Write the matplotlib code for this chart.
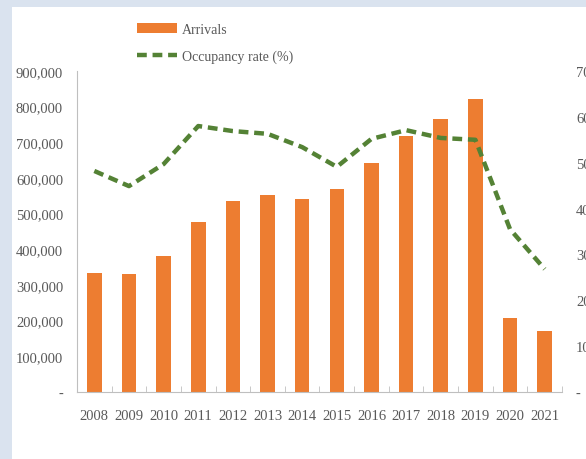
import numpy as np
import matplotlib
matplotlib.use("Agg")
import matplotlib.pyplot as plt
from matplotlib.patches import Rectangle
from matplotlib.ticker import FuncFormatter

# ── Data ────────────────────────────────────────────────────────────────
years = ["2008", "2009", "2010", "2011", "2012", "2013", "2014",
         "2015", "2016", "2017", "2018", "2019", "2020", "2021"]
arrivals = [333000, 331000, 382000, 476000, 535000, 551000, 540000,
            570000, 643000, 717000, 766000, 821000, 207000, 170000]
occupancy = [48.2, 44.9, 49.7, 58.0, 56.9, 56.3, 53.4,
             49.1, 55.2, 57.1, 55.4, 55.0, 35.5, 26.8]

BAR_COLOR = "#ED7D31"
LINE_COLOR = "#548235"
TEXT_COLOR = "#595959"
BG_COLOR = "#DAE3EF"

plt.rcParams["font.family"] = ["Liberation Serif", "DejaVu Serif"]

fig = plt.figure(figsize=(5.86, 4.6), dpi=100)
fig.patch.set_facecolor(BG_COLOR)
# white panel (the reference is a crop of a framed slide)
fig.patches.append(Rectangle((12 / 586, 0), 1, 1 - 8 / 460, transform=fig.transFigure,
                             facecolor="white", edgecolor="none", zorder=-5))

W, H = 586, 460
left, right, top, bottom = 77, 562, 72, 393
ax = fig.add_axes([left / W, 1 - bottom / H, (right - left) / W, (bottom - top) / H])
ax.set_facecolor("none")

x = np.arange(len(years))
bars = ax.bar(x, arrivals, width=0.42, color=BAR_COLOR, label="Arrivals", zorder=2)
ax.set_xlim(-0.5, len(years) - 0.5)
ax.set_ylim(0, 900000)
ax.set_yticks(np.arange(0, 900001, 100000))
ax.yaxis.set_major_formatter(FuncFormatter(lambda v, p: "-" if v == 0 else f"{int(v):,}"))
ax.set_xticks(x)
ax.set_xticklabels(years)
ax.set_xticks(np.arange(-0.5, len(years)), minor=True)
ax.tick_params(axis="x", which="major", length=0, pad=12, labelsize=10.5, colors=TEXT_COLOR)
ax.tick_params(axis="x", which="minor", length=4, direction="in", color="#BFBFBF")
ax.tick_params(axis="y", length=0, pad=10, labelsize=10.5, colors=TEXT_COLOR)
for s in ["top", "right"]:
    ax.spines[s].set_visible(False)
ax.spines["left"].set_color("#BFBFBF")
ax.spines["bottom"].set_color("#BFBFBF")

ax2 = ax.twinx()
line, = ax2.plot(x, occupancy, color=LINE_COLOR, linestyle=(0, (2.2, 1.3)), linewidth=3.2,
                 label="Occupancy rate (%)", zorder=3)
ax2.set_ylim(0, 70)
ax2.set_yticks(np.arange(0, 71, 10))
ax2.yaxis.set_major_formatter(FuncFormatter(lambda v, p: "-" if v == 0 else f"{int(v)}"))
ax2.tick_params(axis="y", length=0, pad=10, labelsize=10.5, colors=TEXT_COLOR)
for s in ["top", "right", "left", "bottom"]:
    ax2.spines[s].set_visible(False)

fig.legend(handles=[bars, line], loc="upper left", bbox_to_anchor=(137 / W, 1 - 24 / H),
           frameon=False, fontsize=10, labelcolor=TEXT_COLOR, handlelength=2.9,
           handletextpad=0.35, labelspacing=1.0, borderpad=0, borderaxespad=0)

fig.savefig("out.png", dpi=100, facecolor=fig.get_facecolor())
